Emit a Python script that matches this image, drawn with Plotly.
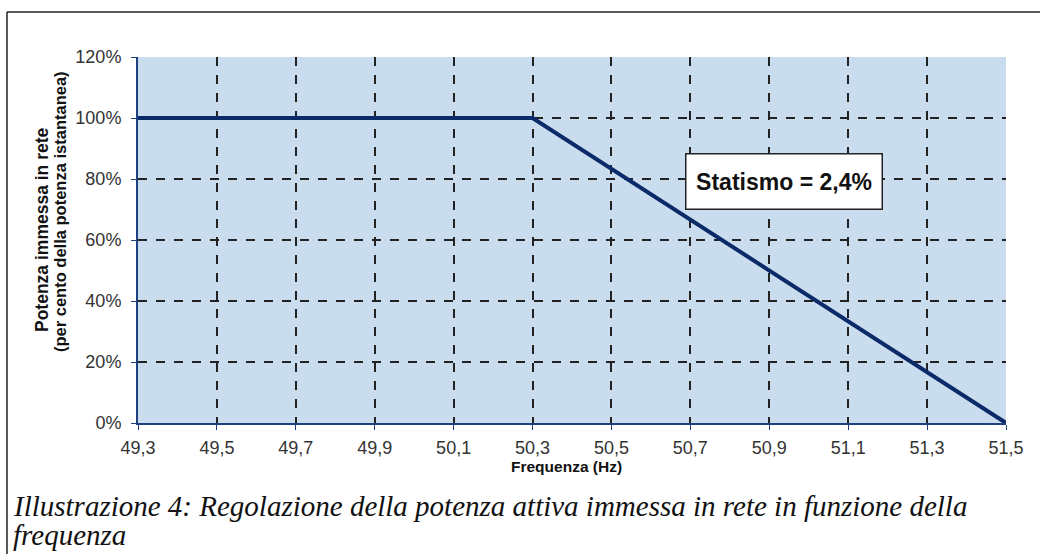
import plotly.graph_objects as go

freq = [49.3, 50.3, 51.5]
power = [100, 100, 0]
x_ticks = [49.3, 49.5, 49.7, 49.9, 50.1, 50.3, 50.5, 50.7, 50.9, 51.1, 51.3, 51.5]
y_ticks = [0, 20, 40, 60, 80, 100, 120]
y_tick_labels = ["0%", "20%", "40%", "60%", "80%", "100%", "120%"]
y_title_lines = ["Potenza immessa in rete", "(per cento della potenza istantanea)"]
x_title = "Frequenza (Hz)"
box_text = "Statismo = 2,4%"
caption_lines = ["Illustrazione 4: Regolazione della potenza attiva immessa in rete in funzione della",
                 "frequenza"]

W, H = 1040, 554
L, R, T, B = 138, 34, 57, 131
pw, ph = W - L - R, H - T - B

def px_x(p):
    return (p - L) / pw

def px_y(p):
    return (H - B - p) / ph

fig = go.Figure()
fig.add_trace(go.Scatter(x=freq, y=power, mode="lines",
                         line=dict(color="#0B2A68", width=4), showlegend=False,
                         cliponaxis=False))

axis_font = dict(family="Liberation Sans, Arial", size=18, color="#333333")
fig.update_layout(
    width=W, height=H,
    margin=dict(l=L, r=R, t=T, b=B),
    paper_bgcolor="white",
    plot_bgcolor="#CADDEF",
    separators=",.",
    xaxis=dict(range=[49.3, 51.5], tickvals=x_ticks, tickformat=".1f",
               showgrid=True, gridcolor="#222222", griddash="dash", gridwidth=1.5,
               showline=True, linecolor="#1F3F7F", linewidth=2,
               ticks="outside", ticklen=5, tickcolor="#1F3F7F",
               tickfont=axis_font, zeroline=False, ticklabelstandoff=2),
    yaxis=dict(range=[0, 120], tickvals=y_ticks, ticktext=y_tick_labels,
               showgrid=True, gridcolor="#222222", griddash="dash", gridwidth=1.5,
               showline=True, linecolor="#1F3F7F", linewidth=2,
               ticks="outside", ticklen=5, tickcolor="#1F3F7F",
               tickfont=axis_font, zeroline=False, ticklabelstandoff=6),
)

# y axis title (two lines)
for (cx, cy, size), line in zip([(42, 230, 17.5), (60, 212, 16.5)], y_title_lines):
    fig.add_annotation(xref="paper", yref="paper", x=px_x(cx), y=px_y(cy),
                       xanchor="center", yanchor="middle", showarrow=False,
                       textangle=-90, text="<b>" + line + "</b>",
                       font=dict(family="Liberation Sans, Arial", size=size, color="#111111"))
# x axis title
fig.add_annotation(xref="paper", yref="paper", x=px_x(566), y=px_y(466),
                   xanchor="center", yanchor="middle", showarrow=False,
                   text="<b>" + x_title + "</b>",
                   font=dict(family="Liberation Sans, Arial", size=15.5, color="#111111"))

# outer frame (left and top lines)
fig.add_shape(type="line", xref="paper", yref="paper",
              x0=px_x(7), x1=px_x(7), y0=px_y(12), y1=px_y(H + 5),
              line=dict(color="#222222", width=1.5))
fig.add_shape(type="line", xref="paper", yref="paper",
              x0=px_x(7), x1=px_x(W + 5), y0=px_y(12), y1=px_y(12),
              line=dict(color="#222222", width=1.5))

# annotation box
fig.add_annotation(xref="paper", yref="paper", x=px_x(883), y=px_y(181),
                   text="<b>" + box_text + "</b>", showarrow=False,
                   font=dict(family="Liberation Sans, Arial", size=23, color="#111111"),
                   bgcolor="white", bordercolor="#222222", borderwidth=1.5,
                   width=193, height=52)

# caption
for i, line in enumerate(caption_lines):
    fig.add_annotation(xref="paper", yref="paper", x=px_x(11), y=px_y(506 + 29 * i),
                       xanchor="left", yanchor="middle", showarrow=False,
                       text="<i>" + line + "</i>",
                       font=dict(family="Liberation Serif, Times New Roman", size=29, color="#111111"))

fig.write_html("out.html", config={"displayModeBar": False},
               post_script="document.body.style.margin='0';")
